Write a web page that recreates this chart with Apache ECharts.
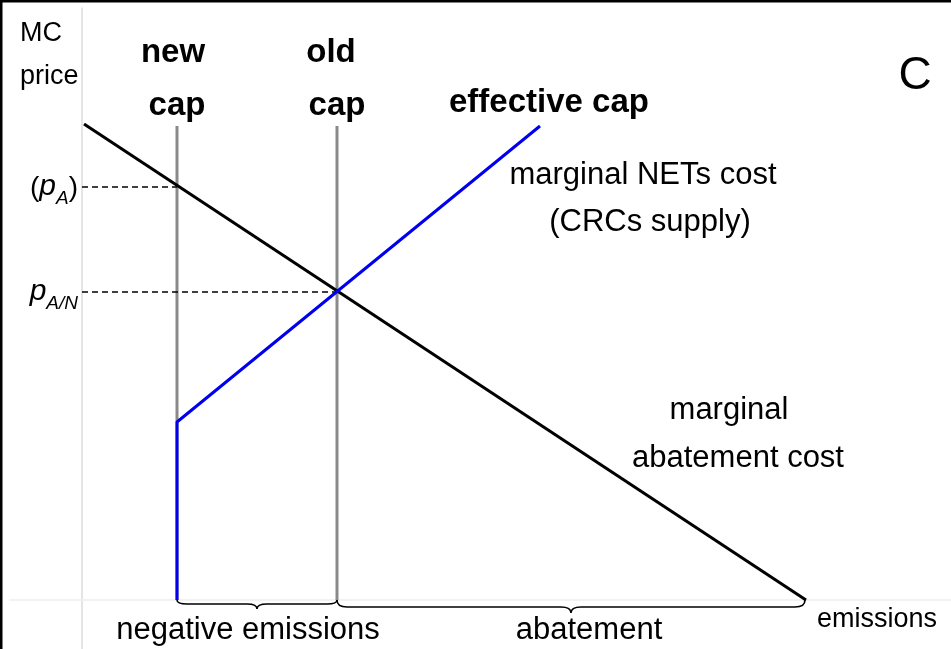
<!DOCTYPE html>
<html>
<head>
<meta charset="utf-8">
<script src="https://cdn.jsdelivr.net/npm/echarts@6/dist/echarts.min.js"></script>
<style>
  html, body { margin: 0; padding: 0; background: #fff; }
  #chart { width: 951px; height: 649px; }
</style>
</head>
<body>
<div id="chart"></div>
<script>
// emissions on x, price on y (arbitrary units)
var capNames = ['new', 'old'];
var capX = [9.5, 25.5];
var capTop = 47.4;

// marginal abatement cost (falls to zero at baseline emissions)
var macX = [0.2, 72.4];
var macY = [47.6, 0];

// marginal NETs cost / CRCs supply
var netsX = [9.5, 9.5, 45.8];
var netsY = [0, 17.8, 47.4];

// price levels on the y axis
var priceNames = ['pA', 'pAN'];
var priceY = [41.3, 30.8];
var priceReachX = [9.5, 25.5];

// braces under the x axis
var braceFrom = [9.5, 25.5];
var braceTo = [25.5, 72.3];
var braceNames = ['negative emissions', 'abatement'];

var font = '"Liberation Sans", Arial, sans-serif';

var chart = echarts.init(document.getElementById('chart'));

var series = [];

// cap lines (gray)
for (var i = 0; i < capX.length; i++) {
    series.push({
        type: 'line',
        data: [[capX[i], 0], [capX[i], capTop]],
        symbol: 'none',
        lineStyle: { color: '#8a8a8a', width: 3 },
        z: 2
    });
}

// dashed price lines
for (var j = 0; j < priceY.length; j++) {
    series.push({
        type: 'line',
        data: [[0, priceY[j]], [priceReachX[j], priceY[j]]],
        symbol: 'none',
        lineStyle: { color: '#000', width: 1.5, type: [6, 4] },
        z: 2
    });
}

series.push({
    type: 'line',
    data: macX.map(function (x, k) { return [x, macY[k]]; }),
    symbol: 'none',
    lineStyle: { color: '#000', width: 3 },
    z: 3
});

series.push({
    type: 'line',
    data: netsX.map(function (x, k) { return [x, netsY[k]]; }),
    symbol: 'none',
    lineStyle: { color: '#0000ee', width: 3 },
    z: 4
});

// braces, drawn from axis coords
var braceDepth = [[4, 9], [7, 13]];
series.push({
    type: 'custom',
    data: braceFrom.map(function (x, k) { return [x, braceTo[k]]; }),
    renderItem: function (params, api) {
        var p0 = api.coord([api.value(0), 0]);
        var p1 = api.coord([api.value(1), 0]);
        var d = braceDepth[params.dataIndex];
        var a = d[0], b = d[1];
        var x0 = p0[0], x1 = p1[0], y = p0[1];
        var xm = (x0 + x1) / 2;
        var r = 10;
        var path = 'M' + x0 + ' ' + y +
            ' Q' + x0 + ' ' + (y + a) + ' ' + (x0 + r) + ' ' + (y + a) +
            ' L' + (xm - r) + ' ' + (y + a) +
            ' Q' + xm + ' ' + (y + a) + ' ' + xm + ' ' + (y + b) +
            ' Q' + xm + ' ' + (y + a) + ' ' + (xm + r) + ' ' + (y + a) +
            ' L' + (x1 - r) + ' ' + (y + a) +
            ' Q' + x1 + ' ' + (y + a) + ' ' + x1 + ' ' + y;
        return {
            type: 'path',
            shape: { pathData: path },
            style: { fill: null, stroke: '#000', lineWidth: 1.6 }
        };
    },
    z: 3
});

function txt(x, y, s, size, weight, align) {
    return {
        type: 'text', x: x, y: y, z: 10,
        style: {
            text: s, font: (weight || 'normal') + ' ' + size + 'px ' + font,
            fill: '#000', align: align || 'center', verticalAlign: 'middle'
        }
    };
}

chart.setOption({
    animation: false,
    backgroundColor: '#fff',
    grid: { left: 10, right: 0, top: 8, bottom: 0, containLabel: false, outerBoundsMode: 'none' },
    xAxis: {
        type: 'value', min: -7.2, max: 86.9,
        axisLine: { onZero: true, lineStyle: { color: '#eeeeee', width: 1.5 } },
        axisTick: { show: false }, axisLabel: { show: false }, splitLine: { show: false }
    },
    yAxis: {
        type: 'value', min: -4.9, max: 59.2,
        axisLine: { show: true, onZero: true, lineStyle: { color: '#dcdcdc', width: 1.5 } },
        axisTick: { show: false }, splitLine: { show: false },
        axisLabel: {
            customValues: priceY,
            margin: -68,
            formatter: function (v) {
                var k = priceY.indexOf(v);
                if (priceNames[k] === 'pA') return '{n|(}{p|p}{s|A}{n|)}';
                return '{p|p}{s|A/N}';
            },
            rich: {
                n: { fontFamily: font, fontSize: 28, color: '#000', verticalAlign: 'bottom' },
                p: { fontFamily: font, fontSize: 30, fontStyle: 'italic', color: '#000', verticalAlign: 'bottom' },
                s: { fontFamily: font, fontSize: 19, fontStyle: 'italic', color: '#000', verticalAlign: 'bottom', padding: [0, 0, -6, 0] }
            }
        }
    },
    series: series,
    graphic: [
        { type: 'line', shape: { x1: 0, y1: 1, x2: 951, y2: 1 }, style: { stroke: '#000', lineWidth: 3 }, z: 20 },
        { type: 'line', shape: { x1: 1, y1: 0, x2: 1, y2: 649 }, style: { stroke: '#000', lineWidth: 3 }, z: 20 },
        txt(20, 34, 'MC', 27, 'normal', 'left'),
        txt(20, 77, 'price', 27, 'normal', 'left'),
        txt(173, 53, capNames[0], 33, 'bold'),
        txt(177, 106, 'cap', 33, 'bold'),
        txt(331, 53, capNames[1], 33, 'bold'),
        txt(337, 106, 'cap', 33, 'bold'),
        txt(449, 103, 'effective cap', 33, 'bold', 'left'),
        txt(915, 76, 'C', 46),
        txt(643, 175, 'marginal NETs cost', 31),
        txt(650, 222, '(CRCs supply)', 31),
        txt(729, 410, 'marginal', 31),
        txt(738, 458, 'abatement cost', 31),
        txt(248, 630, braceNames[0], 31),
        txt(589, 630, braceNames[1], 31),
        txt(877, 620, 'emissions', 27)
    ]
});
</script>
</body>
</html>
